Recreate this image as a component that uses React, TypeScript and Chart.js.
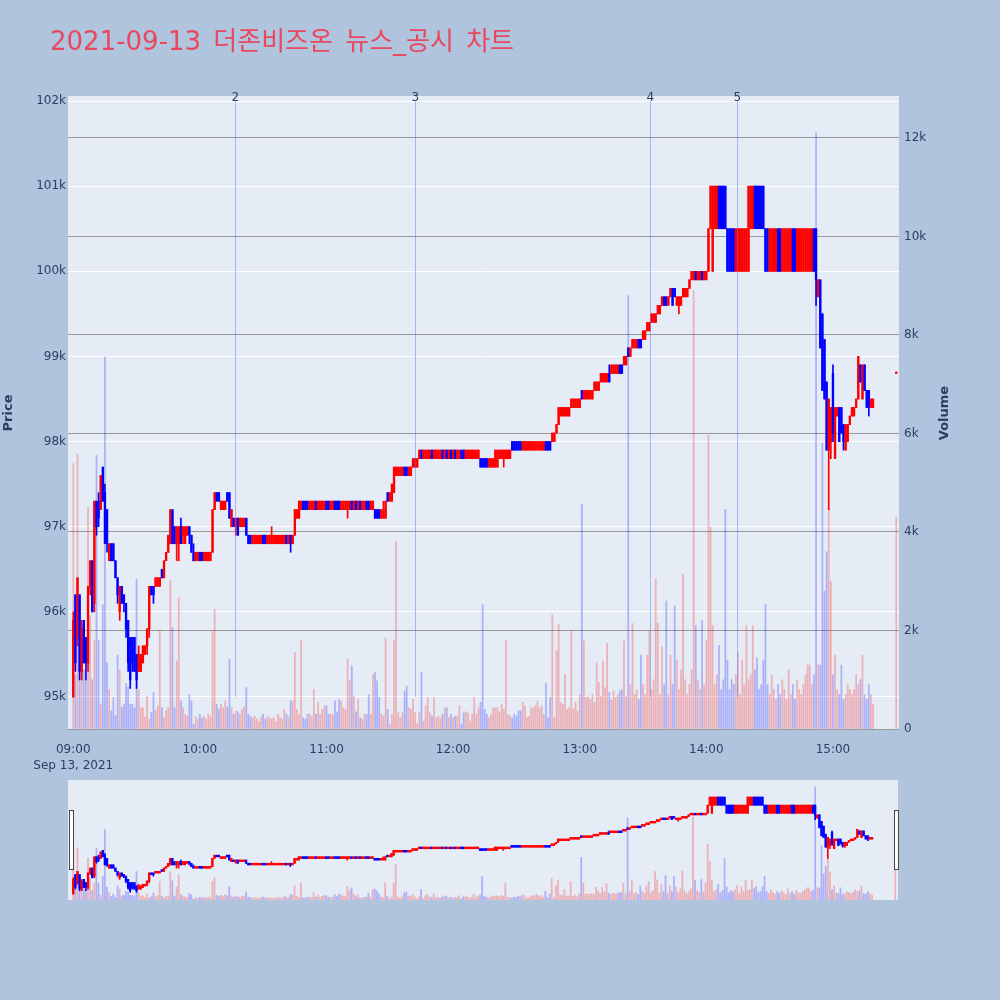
import React, { useEffect, useRef } from 'react';
import { Chart, registerables } from 'chart.js';

Chart.register(...registerables);

const TITLE = '2021-09-13 더존비즈온 뉴스_공시 차트';
const DATE_LABEL = 'Sep 13, 2021';

// minute offset from 09:00 for each 1-minute candle (09:00..15:19, then the 15:30 closing auction)
const minuteOffsets: number[] = Array.from({ length: 380 }, (_, i) => i).concat([390]);

// prices in hundreds of KRW (950 = 95,000)
const openP = [
  950,962,957,962,953,959,957,954,963,966,
  961,973,973,972,977,974,972,966,968,968,
  966,964,960,963,962,961,959,957,957,957,
  955,953,953,954,955,956,958,963,963,963,
  963,963,965,964,966,967,968,972,970,968,
  968,970,969,968,969,970,969,967,966,966,
  967,967,966,966,966,966,967,972,974,974,
  972,972,972,974,974,970,971,970,971,970,
  970,970,971,969,969,968,968,968,968,968,
  969,969,968,968,968,968,968,968,968,968,
  968,969,968,969,968,969,971,971,972,973,
  973,973,972,972,972,973,972,972,972,972,
  973,973,972,972,973,973,973,972,972,972,
  972,972,973,972,973,972,973,972,972,973,
  973,972,972,972,972,972,971,971,971,974,
  973,973,974,976,976,976,976,977,977,976,
  976,977,977,977,978,979,978,978,978,978,
  979,978,978,978,978,979,978,979,978,979,
  978,979,978,978,979,979,978,978,978,978,
  978,978,978,978,978,978,978,977,977,977,
  977,977,978,978,978,978,978,978,980,980,
  980,980,980,979,979,979,979,979,979,979,
  979,979,979,979,980,980,980,980,980,981,
  982,983,983,983,983,983,984,984,984,984,
  984,986,985,985,985,985,985,986,986,986,
  987,987,987,987,988,988,988,988,988,989,
  989,989,989,991,990,991,991,991,992,992,
  992,992,993,993,994,994,994,995,995,996,
  997,997,996,997,998,998,996,996,996,997,
  997,997,998,999,999,1000,999,999,1000,999,
  999,1000,1005,1000,1005,1005,1010,1010,1010,1010,
  1005,1005,1005,1005,1000,1000,1000,1000,1000,1000,
  1000,1005,1005,1010,1010,1010,1010,1010,1005,1005,
  1000,1000,1000,1000,1005,1005,1000,1000,1000,1000,
  1000,1005,1005,1000,1000,1000,1000,1000,1000,1000,
  1000,1005,1005,997,999,995,992,987,979,980,
  988,978,983,984,984,982,979,980,982,983,
  983,984,985,989,985,989,986,986,984,984,
  988,
];

const highP = [
  960,962,964,962,959,959,957,963,966,966,
  973,973,974,976,977,975,972,968,968,968,
  966,964,963,963,962,961,959,957,957,957,
  955,956,955,956,956,958,963,963,963,964,
  964,964,965,966,967,969,972,972,970,970,
  970,971,970,970,970,970,969,968,967,967,
  967,967,967,967,967,967,972,974,974,974,
  973,973,973,974,974,972,971,971,971,971,
  971,971,971,969,969,969,969,969,969,969,
  969,969,969,969,970,969,969,969,969,969,
  969,969,969,969,969,972,972,973,973,973,
  973,973,973,973,973,973,973,973,973,973,
  973,973,973,973,973,973,973,973,973,973,
  973,973,973,973,973,973,973,973,973,973,
  973,973,973,972,972,972,972,973,973,974,
  974,975,977,977,977,977,977,977,977,977,
  977,978,978,978,979,979,979,979,979,979,
  979,979,979,979,979,979,979,979,979,979,
  979,979,979,979,979,979,979,979,979,979,
  979,979,979,978,978,978,978,978,978,978,
  979,979,979,979,979,979,979,979,980,980,
  980,980,980,980,980,980,980,980,980,980,
  980,980,980,980,980,980,980,981,981,982,
  984,984,984,984,984,984,985,985,985,985,
  985,986,986,986,986,986,986,987,987,987,
  988,988,988,988,989,989,989,989,989,989,
  989,990,990,991,991,992,992,992,992,992,
  993,993,994,994,995,995,995,996,996,997,
  997,997,997,998,998,998,997,997,997,998,
  998,998,999,1000,1000,1000,1000,1000,1000,1000,
  1000,1005,1010,1010,1010,1010,1010,1010,1010,1010,
  1005,1005,1005,1005,1005,1005,1005,1005,1005,1005,
  1010,1010,1010,1010,1010,1010,1010,1010,1005,1005,
  1005,1005,1005,1005,1005,1005,1005,1005,1005,1005,
  1005,1005,1005,1005,1005,1005,1005,1005,1005,1005,
  1005,1005,1005,999,999,995,992,987,985,984,
  989,984,984,984,984,982,982,982,983,984,
  984,985,990,989,989,989,986,986,985,985,
  988,
];

const lowP = [
  950,953,956,952,952,954,952,953,962,960,
  960,969,970,972,973,968,967,966,966,966,
  964,961,959,961,960,957,953,951,953,953,
  951,953,953,954,955,955,957,962,961,963,
  963,963,964,964,966,967,968,968,968,966,
  966,968,968,968,969,968,967,966,966,966,
  966,966,966,966,966,966,967,972,973,973,
  972,972,972,973,971,970,970,969,969,970,
  970,970,969,968,968,968,968,968,968,968,
  968,968,968,968,968,968,968,968,968,968,
  968,968,968,967,968,969,971,971,972,972,
  972,972,972,972,972,972,972,972,972,972,
  972,972,972,972,972,972,972,972,972,972,
  971,972,972,972,972,972,972,972,972,972,
  972,972,972,971,971,971,971,971,971,973,
  973,973,974,976,976,976,976,976,976,976,
  976,977,977,977,978,978,978,978,978,978,
  978,978,978,978,978,978,978,978,978,978,
  978,978,978,978,978,978,978,978,978,978,
  978,978,978,977,977,977,977,977,977,977,
  977,977,978,978,977,978,978,978,979,979,
  979,979,979,979,979,979,979,979,979,979,
  979,979,979,979,979,979,979,980,980,981,
  982,983,983,983,983,983,984,984,984,984,
  984,985,985,985,985,985,985,986,986,986,
  987,987,987,987,987,988,988,988,988,988,
  988,989,989,990,990,991,991,991,991,991,
  992,992,993,993,994,994,994,995,995,996,
  996,996,996,997,996,997,996,995,996,997,
  997,997,998,999,999,999,999,999,999,999,
  999,1000,1005,1000,1005,1005,1005,1005,1005,1005,
  1000,1000,1000,1000,1000,1000,1000,1000,1000,1000,
  1000,1005,1005,1005,1005,1005,1005,1005,1000,1000,
  1000,1000,1000,1000,1000,1000,1000,1000,1000,1000,
  1000,1000,1000,1000,1000,1000,1000,1000,1000,1000,
  1000,1000,996,997,991,986,985,979,972,978,
  980,978,983,980,981,979,979,980,982,983,
  983,984,985,987,985,986,984,983,984,984,
  988,
];

const closeP = [
  959,954,964,953,958,954,954,963,966,960,
  973,970,971,976,973,968,968,968,966,966,
  964,962,963,961,961,958,954,952,954,953,
  952,955,955,956,956,958,963,962,962,964,
  964,964,964,966,967,969,972,968,968,970,
  970,968,970,970,970,969,967,966,967,967,
  966,966,967,967,967,967,972,974,973,973,
  973,973,973,973,971,972,970,971,969,971,
  971,971,969,968,968,969,969,969,969,969,
  968,968,969,969,969,969,969,969,969,969,
  969,968,969,968,969,972,972,973,973,972,
  972,972,973,973,973,972,973,973,973,973,
  972,972,973,973,972,972,972,973,973,973,
  973,973,972,973,972,973,972,973,973,972,
  972,973,973,971,971,971,972,972,973,973,
  974,975,977,977,977,977,977,976,976,977,
  977,978,978,978,979,978,979,979,979,979,
  978,979,979,979,979,978,979,978,979,978,
  979,978,979,979,978,978,979,979,979,979,
  979,979,979,977,977,977,977,978,978,978,
  979,979,979,979,979,979,979,979,979,979,
  979,979,979,980,980,980,980,980,980,980,
  980,980,980,980,979,979,979,981,981,982,
  984,984,984,984,984,984,985,985,985,985,
  985,985,986,986,986,986,986,987,987,987,
  988,988,988,988,987,989,989,989,989,988,
  988,990,990,990,991,992,992,992,991,991,
  993,993,994,994,995,995,995,996,996,997,
  996,996,997,998,996,997,997,997,997,998,
  998,998,999,1000,1000,999,1000,1000,999,1000,
  1000,1005,1010,1010,1010,1010,1005,1005,1005,1005,
  1000,1000,1000,1000,1005,1005,1005,1005,1005,1005,
  1010,1010,1010,1005,1005,1005,1005,1005,1000,1000,
  1005,1005,1005,1005,1000,1000,1005,1005,1005,1005,
  1005,1000,1000,1005,1005,1005,1005,1005,1005,1005,
  1005,1000,999,999,991,986,985,979,985,984,
  981,984,984,980,981,980,982,982,983,984,
  984,985,990,987,989,986,984,984,985,985,
  988,
];

const volume = [
  5390,1100,5580,1050,1250,1200,1000,4500,2300,1000,
  1800,5550,1800,500,2520,7550,1350,800,370,640,
  270,1500,1200,440,500,920,850,500,500,430,
  3040,800,430,430,240,670,200,340,740,370,
  470,2000,430,240,370,430,3020,2060,430,1380,
  2670,570,430,300,270,700,570,100,250,200,
  300,220,260,200,300,250,1990,2430,500,400,
  500,430,570,450,1420,430,300,370,350,300,
  400,450,840,300,250,230,260,200,150,250,
  300,200,250,230,200,230,150,300,230,200,
  400,300,250,570,570,1550,400,300,1810,230,
  200,300,300,250,800,300,540,300,400,470,
  470,300,300,300,570,350,600,570,430,400,
  1420,980,1280,670,350,600,230,200,300,300,
  700,300,1110,1150,980,640,300,260,1840,400,
  100,300,1790,3810,330,230,330,770,870,430,
  400,600,330,100,330,1150,160,470,640,330,
  260,640,230,260,230,300,430,430,230,300,
  230,260,260,470,100,330,350,330,160,300,
  640,300,430,540,2520,400,300,230,300,430,
  430,430,350,500,400,1810,300,260,230,300,
  260,370,370,540,470,230,260,430,430,470,
  570,430,470,300,920,230,640,2320,230,1590,
  2130,540,500,1110,400,430,1990,400,540,370,
  700,4570,1790,640,670,600,700,540,1350,950,
  670,1380,840,1740,740,600,770,640,700,770,
  800,1790,670,8800,900,2140,700,800,600,1500,
  900,700,1500,2000,800,1000,3040,2150,700,1670,
  900,2600,700,1500,900,2500,1400,800,1200,3140,
  1000,700,900,1200,8900,2100,1000,800,2200,900,
  1800,5960,4100,2100,900,1100,1700,800,1000,4460,
  1400,800,1000,900,1100,1550,700,1400,900,2100,
  1000,1100,2100,1200,1450,800,900,1400,2530,900,
  700,1100,800,600,900,700,1000,800,600,1200,
  700,900,600,1000,800,700,900,1100,1300,1300,
  900,1100,12100,1300,1300,5800,2800,3600,4480,3000,
  1100,1500,800,700,1300,600,700,900,800,700,
  800,1100,900,1000,1500,700,600,900,700,500,
  4300,
];

// news markers (minutes after 09:00) and their labels
const newsMinutes = [76.8, 162.1, 273.5, 314.7];
const newsLabels = ['2', '3', '4', '5'];

const hourTicks = [0, 60, 120, 180, 240, 300, 360];
const hourLabels = ['09:00', '10:00', '11:00', '12:00', '13:00', '14:00', '15:00'];
const priceTicks = [95000, 96000, 97000, 98000, 99000, 100000, 101000, 102000];
const priceTickLabels = ['95k', '96k', '97k', '98k', '99k', '100k', '101k', '102k'];
const volumeTicks = [0, 2000, 4000, 6000, 8000, 10000, 12000];
const volumeTickLabels = ['0', '2k', '4k', '6k', '8k', '10k', '12k'];

const X_MIN = -2.5;
const X_MAX = 391.3;
const P_MIN = 94624;
const P_MAX = 102059;
const V_MAX = 12850;

const FONT = '"DejaVu Sans", "Noto Sans CJK KR", sans-serif';
const TXT = '#2a3f5f';
const UP = '#ff0000';
const DOWN = '#0000ff';
const UP_V = 'rgba(255,0,0,0.25)';
const DOWN_V = 'rgba(0,0,255,0.25)';

function buildDatasets() {
  const up = closeP.map((c, i) => c >= openP[i]);
  const candleColors = up.map((u) => (u ? UP : DOWN));
  const volColors = up.map((u) => (u ? UP_V : DOWN_V));
  const body = minuteOffsets.map((m, i) => ({ x: m, y: [openP[i] * 100, closeP[i] * 100] }));
  const wick = minuteOffsets.map((m, i) => ({ x: m, y: [lowP[i] * 100, highP[i] * 100] }));
  const vol = minuteOffsets.map((m, i) => ({ x: m, y: volume[i] }));
  return [
    { label: 'body', data: body, yAxisID: 'y', backgroundColor: candleColors, borderWidth: 0, barThickness: 1.7, minBarLength: 1.5, grouped: false, order: 0 },
    { label: 'wick', data: wick, yAxisID: 'y', backgroundColor: candleColors, borderWidth: 0, barThickness: 1, grouped: false, order: 1 },
    { label: 'volume', data: vol, yAxisID: 'y1', backgroundColor: volColors, borderWidth: 0, barThickness: 1.1, grouped: false, order: 2 },
  ];
}

const bgPlugin = {
  id: 'plotBg',
  beforeDraw(chart: any) {
    const { ctx, chartArea: a } = chart;
    ctx.save();
    ctx.fillStyle = '#e5ecf6';
    ctx.fillRect(a.left, a.top, a.right - a.left, a.bottom - a.top);
    ctx.restore();
  },
};

const overlayPlugin = {
  id: 'overlay',
  afterDatasetsDraw(chart: any) {
    const { ctx } = chart;
    const xs = chart.scales.x;
    const ys = chart.scales.y;
    ctx.save();
    ctx.strokeStyle = 'rgba(90,115,245,0.45)';
    ctx.lineWidth = 1;
    const yTop = ys.getPixelForValue(102000);
    const yBot = ys.getPixelForValue(95000);
    newsMinutes.forEach((m) => {
      const x = Math.round(xs.getPixelForValue(m)) + 0.5;
      ctx.beginPath();
      ctx.moveTo(x, yTop);
      ctx.lineTo(x, yBot);
      ctx.stroke();
    });
    ctx.fillStyle = TXT;
    ctx.font = `12px ${FONT}`;
    ctx.textAlign = 'center';
    ctx.textBaseline = 'alphabetic';
    newsMinutes.forEach((m, i) => {
      const x = xs.getPixelForValue(m);
      ctx.fillText(newsLabels[i], x, yTop);
    });
    ctx.restore();
  },
  afterDraw(chart: any) {
    const { ctx } = chart;
    ctx.save();
    ctx.fillStyle = '#e8485f';
    ctx.font = `26px ${FONT}`;
    try {
      (ctx as any).wordSpacing = '4px';
    } catch (e) {
      /* ignore */
    }
    ctx.textAlign = 'left';
    ctx.textBaseline = 'alphabetic';
    ctx.fillText(TITLE, 50, 50);
    ctx.restore();

    const axisTitle = (text: string, x: number, y: number) => {
      ctx.save();
      ctx.fillStyle = TXT;
      ctx.font = `bold 13px ${FONT}`;
      ctx.textAlign = 'center';
      ctx.textBaseline = 'middle';
      ctx.translate(x, y);
      ctx.rotate(-Math.PI / 2);
      ctx.fillText(text, 0, 0);
      ctx.restore();
    };
    axisTitle('Price', 9, 413);
    axisTitle('Volume', 945, 413);
  },
};

const handlePlugin = {
  id: 'handles',
  afterDraw(chart: any) {
    const { ctx, chartArea: a } = chart;
    const h = (a.bottom - a.top) / 2;
    const y = a.top + h / 2;
    ctx.save();
    ctx.fillStyle = '#ffffff';
    ctx.strokeStyle = '#444444';
    ctx.lineWidth = 1;
    [a.left + 1.5, a.right - 3.5].forEach((x) => {
      ctx.fillRect(x, y + 0.5, 4, h - 1);
      ctx.strokeRect(x, y + 0.5, 4, h - 1);
    });
    ctx.restore();
  },
};

export default function App() {
  const mainRef = useRef<HTMLCanvasElement | null>(null);
  const sliderRef = useRef<HTMLCanvasElement | null>(null);

  useEffect(() => {
    if (!mainRef.current || !sliderRef.current) return;
    const tickFont = { family: FONT, size: 12, lineHeight: 1.3 };

    const main = new Chart(mainRef.current, {
      type: 'bar',
      data: { datasets: buildDatasets() as any },
      options: {
        animation: false,
        responsive: false,
        maintainAspectRatio: false,
        devicePixelRatio: 1,
        events: [],
        layout: { padding: { top: 96, left: 0, right: 0, bottom: 0 } },
        plugins: { legend: { display: false }, tooltip: { enabled: false }, title: { display: false } },
        scales: {
          x: {
            type: 'linear',
            min: X_MIN,
            max: X_MAX,
            offset: false,
            grid: { display: false },
            border: { display: false },
            afterFit: (s: any) => { s.height = 46; },
            afterBuildTicks: (s: any) => { s.ticks = hourTicks.map((v) => ({ value: v })); },
            ticks: {
              autoSkip: false,
              maxRotation: 0,
              padding: 5,
              color: TXT,
              font: tickFont,
              callback: (v: any) => {
                const i = hourTicks.indexOf(Number(v));
                if (i === 0) return [hourLabels[0], DATE_LABEL];
                return i >= 0 ? hourLabels[i] : '';
              },
            },
          },
          y: {
            type: 'linear',
            position: 'left',
            min: P_MIN,
            max: P_MAX,
            grid: { color: '#ffffff', lineWidth: 1, drawTicks: false },
            border: { display: false },
            afterFit: (s: any) => { s.width = 68; },
            afterBuildTicks: (s: any) => { s.ticks = priceTicks.map((v) => ({ value: v })); },
            ticks: {
              padding: 2,
              color: TXT,
              font: { family: FONT, size: 12 },
              callback: (v: any) => {
                const i = priceTicks.indexOf(Number(v));
                return i >= 0 ? priceTickLabels[i] : '';
              },
            },
          },
          y1: {
            type: 'linear',
            position: 'right',
            min: 0,
            max: V_MAX,
            grid: { color: '#999999', lineWidth: 1, drawTicks: false },
            border: { display: false },
            afterFit: (s: any) => { s.width = 101; },
            afterBuildTicks: (s: any) => { s.ticks = volumeTicks.map((v) => ({ value: v })); },
            ticks: {
              padding: 5,
              color: TXT,
              font: { family: FONT, size: 12 },
              callback: (v: any) => {
                const i = volumeTicks.indexOf(Number(v));
                return i >= 0 ? volumeTickLabels[i] : '';
              },
            },
          },
        },
      } as any,
      plugins: [bgPlugin, overlayPlugin],
    });

    const slider = new Chart(sliderRef.current, {
      type: 'bar',
      data: { datasets: buildDatasets() as any },
      options: {
        animation: false,
        responsive: false,
        maintainAspectRatio: false,
        devicePixelRatio: 1,
        events: [],
        layout: { padding: { top: 10, left: 68, right: 102, bottom: 10 } },
        plugins: { legend: { display: false }, tooltip: { enabled: false }, title: { display: false } },
        scales: {
          x: { type: 'linear', min: X_MIN, max: X_MAX, offset: false, display: false },
          y: { type: 'linear', min: P_MIN, max: P_MAX, display: false },
          y1: { type: 'linear', position: 'right', min: 0, max: V_MAX, display: false },
        },
      } as any,
      plugins: [bgPlugin, handlePlugin],
    });

    return () => {
      main.destroy();
      slider.destroy();
    };
  }, []);

  return (
    <div style={{ position: 'absolute', left: 0, top: 0, width: 1000, height: 1000, background: '#b0c4de', overflow: 'hidden' }}>
      <canvas ref={mainRef} width={1000} height={775} style={{ position: 'absolute', left: 0, top: 0, width: 1000, height: 775 }} />
      <canvas ref={sliderRef} width={1000} height={140} style={{ position: 'absolute', left: 0, top: 770, width: 1000, height: 140 }} />
    </div>
  );
}
